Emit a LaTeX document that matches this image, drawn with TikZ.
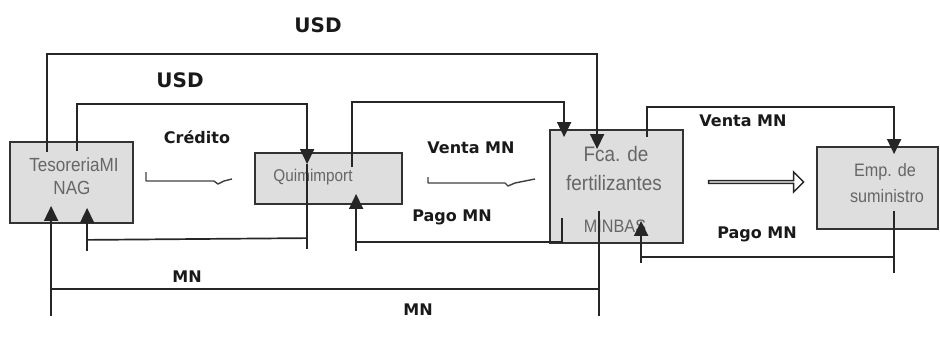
\documentclass[tikz,border=0pt]{standalone}
\usepackage{fontspec}
\setmainfont{DejaVu Sans}
\newfontfamily\boxfont[FakeStretch=0.9]{Liberation Sans}
\usetikzlibrary{arrows.meta,calc,shapes.arrows}
\begin{document}
\begin{tikzpicture}[x=1bp,y=-1bp,
  box/.style={draw=black!80,line width=1.8bp,fill=black!13,inner sep=0pt},
  btxt/.style={text=black!60,font=\boxfont\fontsize{#1bp}{#1bp}\selectfont,inner sep=0pt,align=center},
  lbl/.style={text=black!90,font=\bfseries\fontsize{16bp}{19bp}\selectfont,inner sep=0pt},
  big/.style={text=black!90,font=\bfseries\fontsize{20bp}{24bp}\selectfont,inner sep=0pt},
  ln/.style={draw=black!85,line width=1.7bp},
  arr/.style={ln,-{Triangle[width=14bp,length=15bp]}},
  thinln/.style={draw=black!75,line width=1.4bp,line join=round}]
\useasboundingbox (0,0) rectangle (940,339);
% boxes
\node[box,minimum width=123bp,minimum height=81bp] (tes) at (71.5,182.5) {};
\node[box,minimum width=147bp,minimum height=51bp] (qui) at (328.5,178.5) {};
\node[box,minimum width=133bp,minimum height=113bp] (fca) at (616.5,186.5) {};
\node[box,minimum width=121bp,minimum height=82bp] (emp) at (877.5,188) {};
% hollow arrow
\node[single arrow,draw=black!85,line width=1.5bp,fill=white,minimum height=95bp,minimum width=20bp,single arrow head extend=5bp,inner sep=0pt] (harr) at (755.5,182) {};
% box texts
\node[btxt=19] (t1) at (74,165) {TesoreriaMI};
\node[btxt=19] (t2) at (72,188) {NAG};
\node[btxt=17] (q1) at (313,177) {Quimimport};
\node[btxt=21] (f1) at (616,154) {Fca. de};
\node[btxt=21] (f2) at (614,183) {fertilizantes};
\node[btxt=18] (f3) at (615,226) {MINBAS};
\node[btxt=18] (e1) at (885,172) {Emp. de};
\node[btxt=18] (e2) at (887,196) {suministro};
% connectors
% A: outer USD
\draw[arr] ($(tes.north west)+(38,11)$) -- +(0,-98) -| ($(fca.north west)+(48,20)$);
% B: inner USD
\draw[arr] ($(tes.north west)+(68,10)$) -- +(0,-47) -| ($(qui.north west)+(53,12)$);
\draw[ln] ($(qui.north west)+(53,12)$) -- +(0,85);
\draw[ln] ($(qui.north west)+(53,86)$) -- ($(tes.south west)+(78,16)$);
\draw[arr] ($(tes.south west)+(78,27)$) -- ($(tes.south west)+(78,-16)$);
% C: Quimimport -> Fca
\draw[arr] ($(qui.north west)+(98,15)$) -- +(0,-65) -| ($(fca.north west)+(15,8)$);
% D: Pago MN Fca -> Quimimport
\draw[arr] ($(fca.south west)+(13,-26)$) -- +(0,24) -| ($(qui.south west)+(102,-11)$);
\draw[ln] ($(qui.south west)+(102,37)$) -- +(0,9);
% E: MN Fca -> Tesoreria
\draw[ln] ($(fca.south west)+(50,-33)$) -- +(0,105);
\draw[ln] ($(fca.south west)+(50,45)$) -- ($(tes.south west)+(42,65)$);
\draw[arr] ($(tes.south west)+(42,92)$) -- ($(tes.south west)+(42,-18)$);
% F: Venta MN Fca -> Emp
\draw[arr] ($(fca.north west)+(98,8)$) -- +(0,-30) -| ($(emp.north west)+(78,8)$);
% G: Pago MN Emp -> Fca
\draw[ln] ($(emp.south west)+(78,-19)$) -- +(0,62);
\draw[arr] ($(emp.south west)+(78,27)$) -| ($(fca.south west)+(92,-23)$);
\draw[ln] ($(fca.south west)+(92,13)$) -- +(0,6);
% broken small arrows
\draw[thinln] (146,172) -- (146,181) -- (214,181) -- (218,184) -- (224,181) -- (232,179);
\draw[thinln] (428,177) -- (428,183) -- (505,183) -- (508,186) -- (515,183) -- (535,179);
% labels
\node[big] (usd1) at (318,25) {USD};
\node[big] (usd2) at (180,80) {USD};
\node[lbl] (cred) at (197,137) {Crédito};
\node[lbl] (v1) at (471,148) {Venta MN};
\node[lbl] (p1) at (452,217) {Pago MN};
\node[lbl] (v2) at (743,121) {Venta MN};
\node[lbl] (p2) at (757,234) {Pago MN};
\node[lbl] (mn1) at (187,277) {MN};
\node[lbl] (mn2) at (418,310) {MN};
\end{tikzpicture}
\end{document}
